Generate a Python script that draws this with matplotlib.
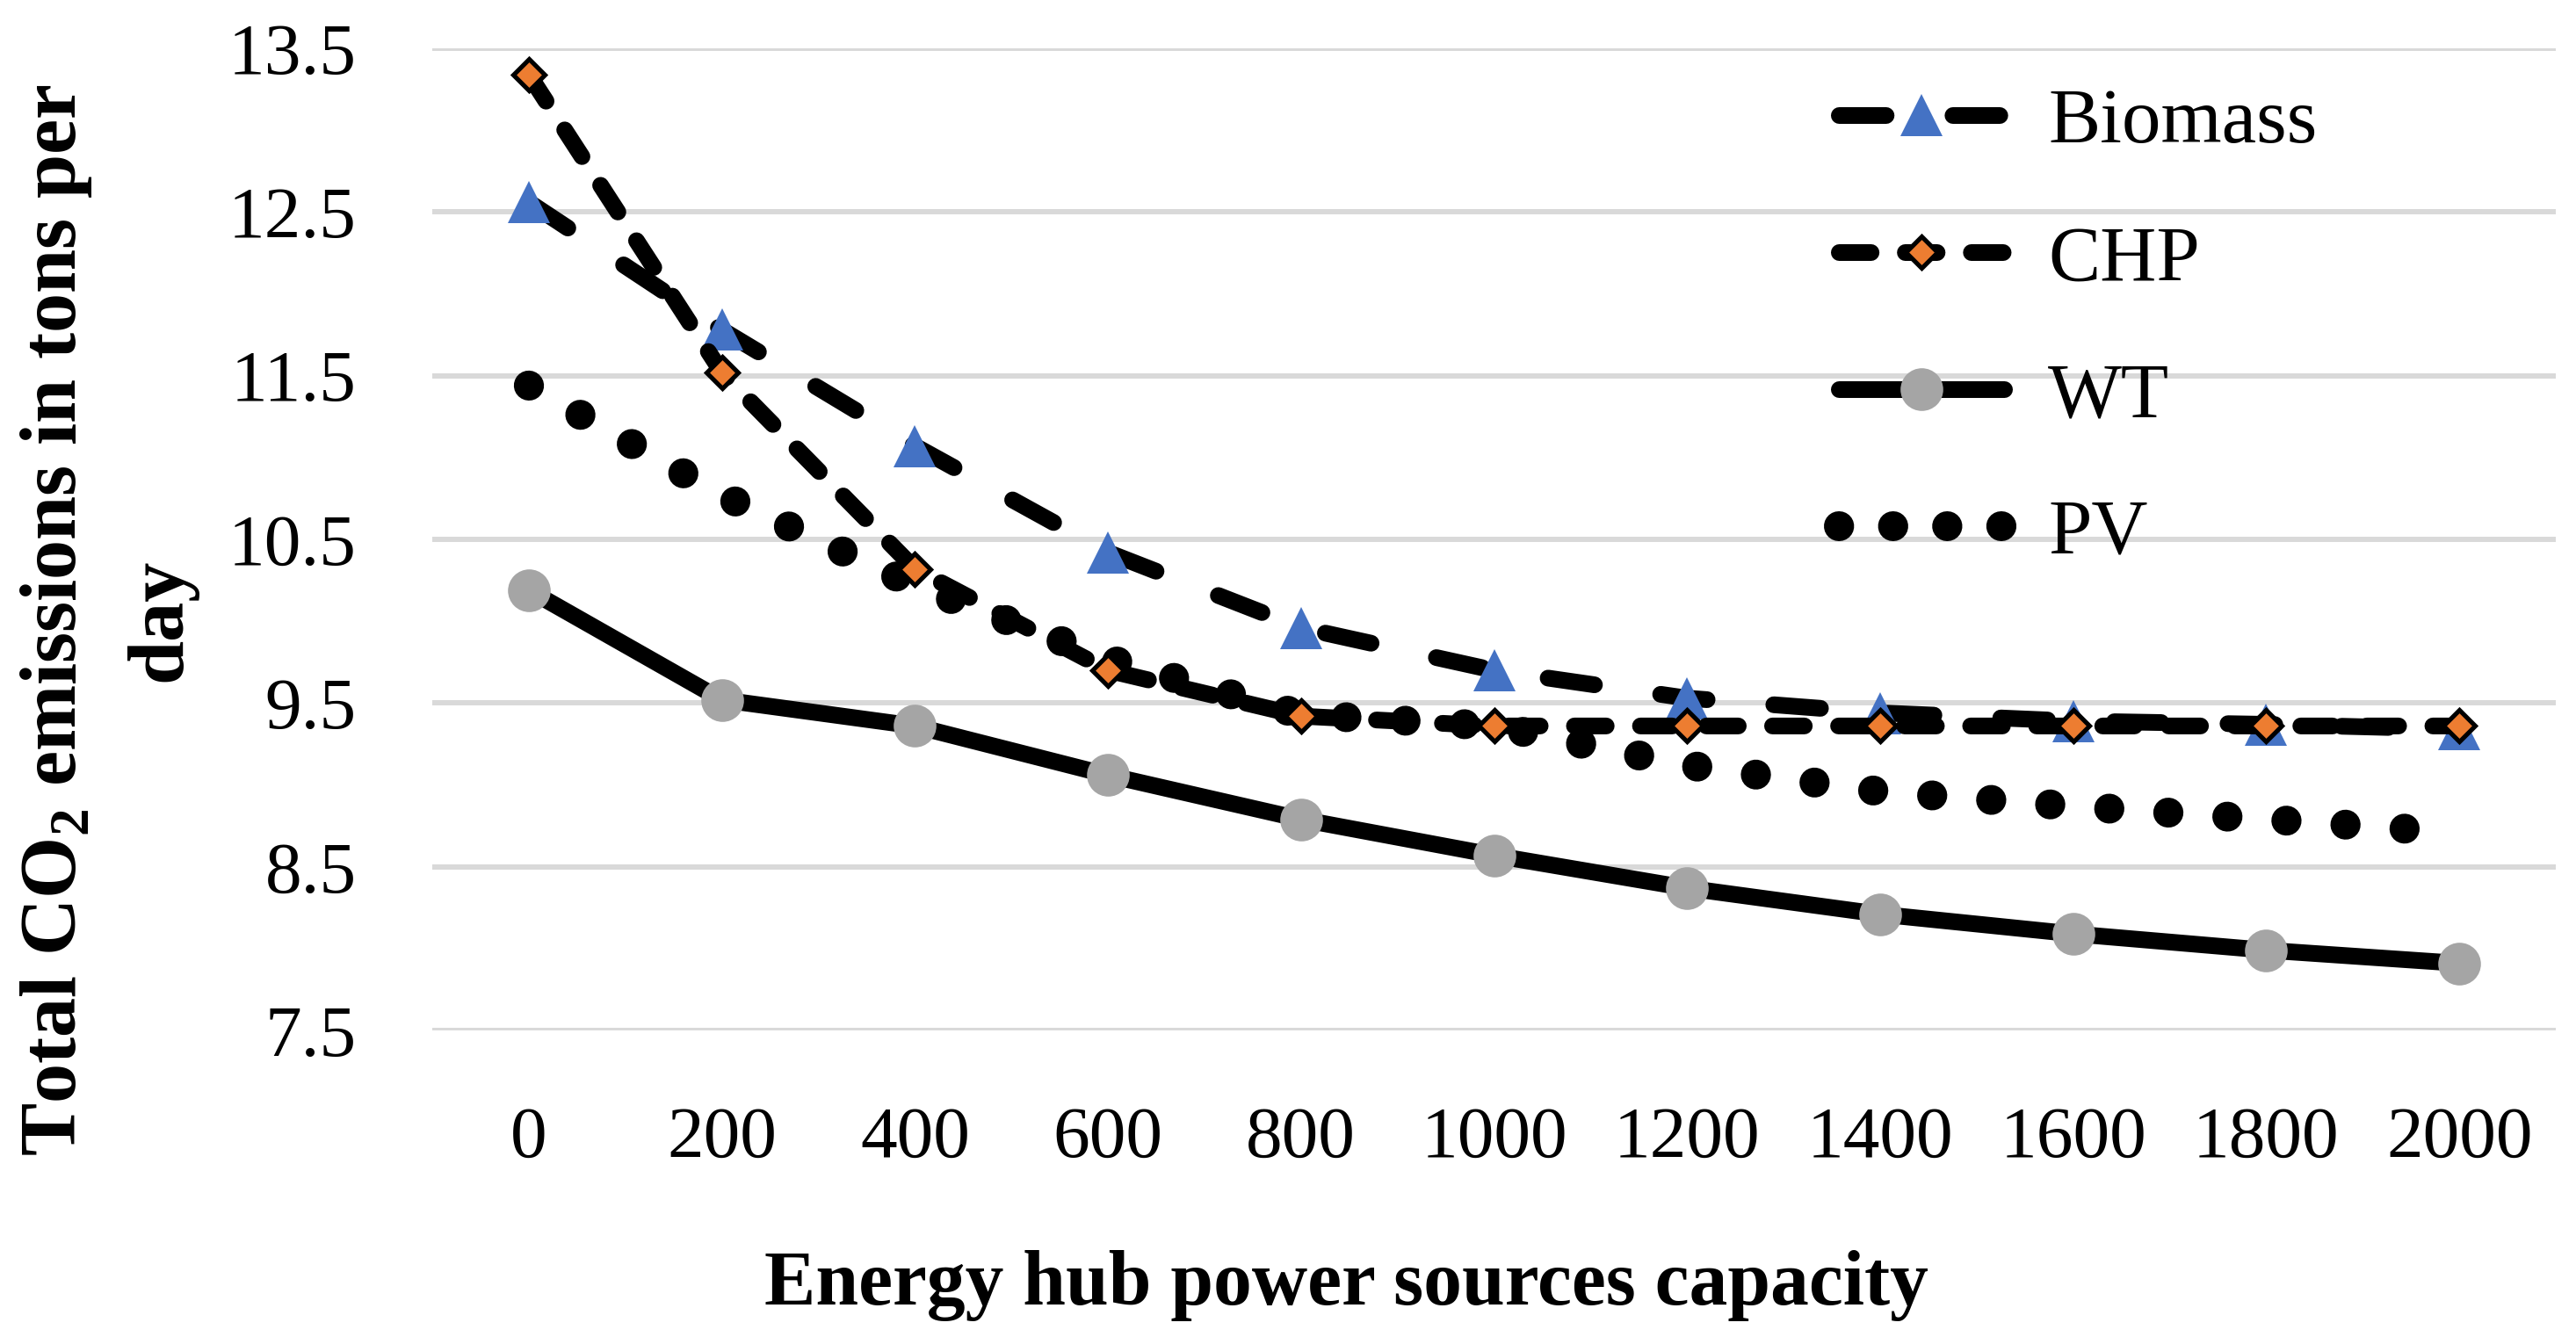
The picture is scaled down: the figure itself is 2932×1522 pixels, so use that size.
import matplotlib
matplotlib.use("Agg")
import matplotlib.pyplot as plt
from matplotlib.lines import Line2D

# capacity steps and CO2 emissions (tons/day)
capacity = [0, 200, 400, 600, 800, 1000, 1200, 1400, 1600, 1800, 2000]
biomass = [12.56, 11.78, 11.07, 10.42, 9.96, 9.70, 9.53, 9.44, 9.39, 9.37, 9.34]
chp = [13.34, 11.52, 10.32, 9.70, 9.42, 9.36, 9.36, 9.36, 9.36, 9.36, 9.36]
wt = [10.19, 9.52, 9.36, 9.06, 8.79, 8.57, 8.37, 8.21, 8.09, 7.99, 7.91]
pv = [11.44, 10.77, 10.22, 9.77, 9.43, 9.36, 9.12, 8.96, 8.87, 8.79, 8.71]
y_ticks = [7.5, 8.5, 9.5, 10.5, 11.5, 12.5, 13.5]

plt.rcParams['font.family'] = ['Liberation Serif', 'DejaVu Serif']
plt.rcParams['mathtext.fontset'] = 'custom'
plt.rcParams['mathtext.rm'] = 'Liberation Serif'
plt.rcParams['mathtext.bf'] = 'Liberation Serif:bold'

W, H = 2932, 1522
fig = plt.figure(figsize=(W / 100, H / 100), dpi=100)
ax = fig.add_axes([492 / W, 1 - 1173 / H, (2909 - 492) / W, (1173 - 55) / H])

lw = 13.7
styles = {
    'Biomass': dict(color='black', lw=lw, dashes=(2.8, 4.0), dash_capstyle='round',
                    marker='^', ms=34.5, mfc='#4472C4', mec='#4472C4', mew=0),
    'CHP': dict(color='black', lw=lw, dashes=(1.9, 2.05), dash_capstyle='round',
                marker='D', ms=18.7, mfc='#ED7D31', mec='black', mew=3.7),
    'WT': dict(color='black', lw=lw, solid_capstyle='round',
               marker='o', ms=35, mfc='#A5A5A5', mec='#A5A5A5', mew=0),
    'PV': dict(color='black', lw=24.5, dashes=(0.01, 1.97), dash_capstyle='round'),
}

ax.plot(capacity, biomass, zorder=2, clip_on=False, **styles['Biomass'])
ax.plot(capacity, pv, zorder=3, clip_on=False, **styles['PV'])
ax.plot(capacity, chp, zorder=4, clip_on=False, **styles['CHP'])
ax.plot(capacity, wt, zorder=5, clip_on=False, **styles['WT'])

ax.set_xlim(-100, 2100)
ax.set_ylim(7.5, 13.5)
ax.set_xticks(capacity)
ax.set_xticklabels([str(c) for c in capacity])
ax.set_yticks(y_ticks)
ax.set_yticklabels([f'{t:.1f}' for t in y_ticks])
ax.tick_params(axis='both', length=0, labelsize=60)
ax.tick_params(axis='x', pad=62)
ax.tick_params(axis='y', pad=62)
ax.grid(axis='y', color='#D9D9D9', lw=4.3)
ax.set_axisbelow(True)
for s in ax.spines.values():
    s.set_visible(False)

# legend proxies (PV dots packed a bit tighter so four fit like the original)
order = ['Biomass', 'CHP', 'WT', 'PV']
proxies = []
for name in order:
    st = dict(styles[name])
    if name == 'PV':
        st['dashes'] = (0.01, 1.8)
    proxies.append(Line2D([], [], **st))
ax.legend(proxies, order, loc='upper left',
          bbox_to_anchor=(2093 / W, 1 - 100 / H), bbox_transform=fig.transFigure,
          frameon=False, fontsize=64, borderpad=0, borderaxespad=0,
          handlelength=2.12, handletextpad=0.56, labelspacing=0.84, numpoints=1)

fig.text(1532 / W, 1 - 1485 / H, 'Energy hub power sources capacity',
         fontsize=63, fontweight='bold', ha='center', va='baseline')
fig.text(64 / W, 1 - 706 / H, r'Total CO$_{\mathbf{2}}$ emissions in tons per',
         fontsize=65, fontweight='bold', rotation=90, ha='center', va='center')
fig.text(183 / W, 1 - 706 / H, 'day', fontsize=65, fontweight='bold',
         rotation=90, ha='center', va='center')

fig.savefig('out.png', dpi=100)
